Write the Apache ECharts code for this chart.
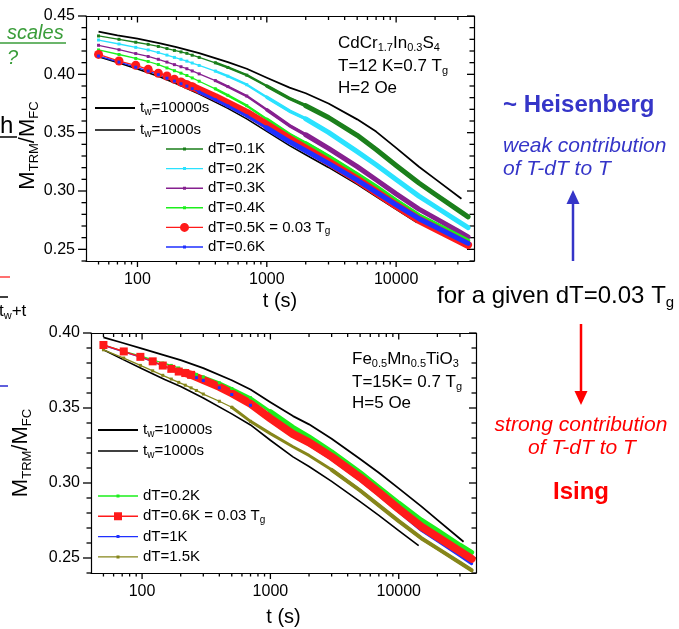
<!DOCTYPE html>
<html>
<head>
<meta charset="utf-8">
<title>TRM relaxation after temperature shift</title>
<script src="https://cdn.jsdelivr.net/npm/echarts@6.0.0/dist/echarts.min.js"></script>
<style>
html,body{margin:0;padding:0;background:#ffffff;}
#chart{width:679px;height:629px;}
</style>
</head>
<body>
<div id="chart"></div>
<script>
// ---------- tick labels / tick positions ----------
const xMajorTicks = [100, 1000, 10000];
const xMinorTicks = [50, 60, 70, 80, 90, 200, 300, 400, 500, 600, 700, 800, 900,
                     2000, 3000, 4000, 5000, 6000, 7000, 8000, 9000, 20000, 30000];
const yTopMajorTicks = [0.25, 0.30, 0.35, 0.40, 0.45];
const yTopMinorTicks = [0.24, 0.26, 0.27, 0.28, 0.29, 0.31, 0.32, 0.33, 0.34, 0.36, 0.37, 0.38, 0.39, 0.41, 0.42, 0.43, 0.44];
const yBotMajorTicks = [0.25, 0.30, 0.35, 0.40];
const yBotMinorTicks = [0.24, 0.26, 0.27, 0.28, 0.29, 0.31, 0.32, 0.33, 0.34, 0.36, 0.37, 0.38, 0.39];

// ---------- top panel: CdCr1.7In0.3S4 ----------
const tTop = [50, 72, 97, 121, 145, 169, 193, 217, 241, 265, 300, 400, 500, 700, 1000, 1500, 2000, 3000, 5000, 7000, 10000, 15000, 20000, 30000, 36000];
const top_dT01 = [.4329,.4300,.4275,.4257,.4239,.4221,.4205,.4192,.4180,.4164,.4145,.4099,.4059,.3993,.3900,.3793,.3731,.3630,.3477,.3356,.3219,.3068,.2972,.2838,.2778];
const top_dT02 = [.4294,.4260,.4231,.4209,.4187,.4165,.4145,.4129,.4113,.4097,.4076,.4028,.3984,.3911,.3804,.3685,.3619,.3503,.3338,.3225,.3098,.2956,.2867,.2742,.2686];
const top_dT03 = [.4249,.4211,.4178,.4153,.4129,.4105,.4083,.4065,.4048,.4029,.4004,.3946,.3895,.3814,.3696,.3560,.3482,.3366,.3209,.3096,.2975,.2845,.2767,.2657,.2607];
const top_dT04 = [.4209,.4170,.4136,.4110,.4084,.4055,.4031,.4010,.3990,.3969,.3941,.3876,.3820,.3731,.3615,.3485,.3408,.3295,.3142,.3037,.2918,.2790,.2719,.2619,.2574];
const top_dT05 = [.4171,.4114,.4077,.4043,.4009,.3986,.3957,.3934,.3911,.3894,.3866,.3804,.3752,.3671,.3566,.3444,.3363,.3249,.3098,.2990,.2876,.2753,.2682,.2582,.2537];
const top_dT06 = [.4157,.4105,.4061,.4028,.3997,.3967,.3942,.3919,.3899,.3877,.3848,.3782,.3728,.3643,.3540,.3422,.3345,.3237,.3093,.2990,.2881,.2763,.2693,.2595,.2551];
const tTopTw10000 = [50, 70, 100, 150, 200, 300, 500, 700, 1000, 1500, 2000, 3000, 5000, 7000, 10000, 15000, 20000, 32000];
const top_tw10000 = [.4366,.4333,.4306,.4266,.4234,.4182,.4105,.4048,.3971,.3886,.3838,.3750,.3614,.3509,.3370,.3208,.3104,.2934];
const tTopTw1000 = [50, 70, 100, 150, 200, 300, 500, 700, 1000, 1500, 2000, 3000, 5000, 7000, 10000, 14500];
const top_tw1000 = [.4151,.4102,.4046,.3978,.3920,.3832,.3708,.3618,.3511,.3389,.3311,.3202,.3057,.2953,.2843,.2729];

// ---------- bottom panel: Fe0.5Mn0.5TiO3 ----------
const tBot = [50, 72, 97, 121, 145, 169, 193, 217, 241, 265, 300, 400, 500, 700, 1000, 1500, 2000, 3000, 5000, 7000, 10000, 15000, 20000, 30000, 37000];
const bot_dT02 = [.3920,.3877,.3848,.3821,.3800,.3784,.3767,.3751,.3737,.3724,.3707,.3668,.3630,.3568,.3476,.3371,.3307,.3208,.3070,.2971,.2866,.2752,.2684,.2585,.2537];
const bot_dT06 = [.3920,.3877,.3841,.3811,.3783,.3761,.3743,.3733,.3721,.3706,.3687,.3641,.3598,.3528,.3430,.3326,.3271,.3175,.3037,.2938,.2828,.2709,.2641,.2545,.2495];
const bot_dT1  = [.3918,.3874,.3840,.3810,.3782,.3760,.3742,.3730,.3717,.3702,.3683,.3635,.3590,.3518,.3415,.3312,.3255,.3158,.3020,.2920,.2810,.2685,.2615,.2515,.2462];
const bot_dT15 = [.3888,.3833,.3784,.3748,.3718,.3693,.3671,.3652,.3634,.3617,.3593,.3545,.3505,.3411,.3329,.3242,.3184,.3088,.2950,.2851,.2746,.2632,.2564,.2468,.2418];
const tBotTw10000 = [50, 70, 100, 150, 200, 300, 500, 700, 1000, 1500, 2000, 3000, 5000, 7000, 10000, 15000, 20000, 32000];
const bot_tw10000 = [.3971,.3935,.3896,.3851,.3819,.3766,.3685,.3623,.3539,.3446,.3391,.3295,.3160,.3068,.2964,.2844,.2754,.2608];
const tBotTw1000 = [50, 70, 100, 150, 200, 300, 500, 700, 1000, 1500, 2000, 3000, 5000, 7000, 10000, 14300];
const bot_tw1000 = [.3888,.3826,.3762,.3690,.3643,.3567,.3461,.3387,.3285,.3174,.3110,.3011,.2876,.2784,.2683,.2582];

// ---------- legend texts ----------
const legendLabels = {
  T_tw10000: 't{s|w}=10000s', T_tw1000: 't{s|w}=1000s',
  T_01: 'dT=0.1K', T_02: 'dT=0.2K', T_03: 'dT=0.3K', T_04: 'dT=0.4K',
  T_05: 'dT=0.5K = 0.03 T{s|g}', T_06: 'dT=0.6K',
  B_tw10000: 't{s|w}=10000s', B_tw1000: 't{s|w}=1000s',
  B_02: 'dT=0.2K', B_06: 'dT=0.6K = 0.03 T{s|g}', B_1: 'dT=1K', B_15: 'dT=1.5K'
};

const FONT = "'Liberation Sans', Arial, Helvetica, sans-serif";
const COL = { dg: '#1b7f1b', cy: '#2ae2ff', pu: '#86208f', lg: '#1cef1c', rd: '#ff1a1a', bl: '#1f30ff', ol: '#86861a', bk: '#000000' };
const X_MIN = 40, X_MAX = 40000;

function pairs(ts, vs) { return ts.map((t, i) => [t, vs[i]]); }

function curve(name, g, ts, vs, color, o) {
  const xi = 3 * g, yi = 2 * g;
  const d = pairs(ts, vs);
  const size = o.size == null ? 3 : o.size;
  const nSym = o.n == null ? 14 : o.n;
  const out = [{
    name: name, type: 'line', xAxisIndex: xi, yAxisIndex: yi, data: d,
    smooth: false, symbol: o.symbol || 'rect',
    symbolSize: (v, p) => (p.dataIndex < nSym ? size : 0),
    showSymbol: size !== 0, showAllSymbol: true,
    itemStyle: { color: color, borderWidth: 0 }, lineStyle: { color: color, width: o.w || 1.3, join: 'round' },
    silent: true, emphasis: { disabled: true }, animation: false
  }];
  (o.bands || []).forEach((b, k) => {
    const i0 = ts.findIndex(t => t >= b.from);
    out.push({
      name: name + '_band' + k, type: 'line', xAxisIndex: xi, yAxisIndex: yi, data: d.slice(i0),
      smooth: false, showSymbol: false, itemStyle: { color: color },
      lineStyle: { color: color, width: b.w, cap: 'round', join: 'round' },
      silent: true, emphasis: { disabled: true }, animation: false
    });
  });
  return out;
}

const lx0 = Math.log10(X_MIN), lx1 = Math.log10(X_MAX);
const FRAME = { show: true, onZero: false, lineStyle: { color: '#000', width: 1.2 } };

function xAxesFor(g, nameGap) {
  return [
    { type: 'log', logBase: 10, gridIndex: g, position: 'bottom', min: X_MIN, max: X_MAX, silent: true,
      axisLine: FRAME, axisTick: { show: false }, axisLabel: { show: false }, splitLine: { show: false },
      minorTick: { show: false }, minorSplitLine: { show: false },
      name: 't (s)', nameLocation: 'middle', nameGap: nameGap,
      nameTextStyle: { fontSize: 20, fontFamily: FONT, color: '#000', lineHeight: 22 } },
    { type: 'value', gridIndex: g, position: 'bottom', min: lx0, max: lx1, silent: true,
      axisLine: { show: false }, axisTick: { show: false }, splitLine: { show: false },
      axisLabel: { show: true, customValues: xMajorTicks.map(v => Math.log10(v)), margin: 11, fontSize: 16,
        fontFamily: FONT, color: '#000', formatter: v => String(Math.round(Math.pow(10, v))) } },
    { type: 'log', logBase: 10, gridIndex: g, position: 'top', min: X_MIN, max: X_MAX, silent: true,
      axisLine: FRAME, axisTick: { show: false }, axisLabel: { show: false }, splitLine: { show: false } }
  ];
}
function yAxesFor(g, major, min, max, nameGap, namePad) {
  return [
    { type: 'value', gridIndex: g, position: 'left', min: min, max: max, silent: true,
      axisLine: FRAME, axisTick: { show: false }, splitLine: { show: false },
      axisLabel: { show: true, customValues: major, margin: 11, fontSize: 16, fontFamily: FONT, color: '#000',
        formatter: v => v.toFixed(2) },
      name: 'M{s|TRM}/M{s|FC}', nameLocation: 'middle', nameRotate: 90, nameGap: nameGap, nameMoveOverlap: false,
      nameTextStyle: { fontSize: 22, fontFamily: FONT, color: '#000', lineHeight: 26, padding: namePad,
        rich: { s: { fontSize: 13, fontFamily: FONT, color: '#000', lineHeight: 4, verticalAlign: 'bottom' } } } },
    { type: 'value', gridIndex: g, position: 'right', min: min, max: max, silent: true,
      axisLine: FRAME, axisTick: { show: false }, axisLabel: { show: false }, splitLine: { show: false } }
  ];
}

const series = [].concat(
  curve('T_tw10000', 0, tTopTw10000, top_tw10000, COL.bk, { size: 0, w: 1.8 }),
  curve('T_tw1000', 0, tTopTw1000, top_tw1000, COL.bk, { size: 0, w: 1.6 }),
  curve('T_01', 0, tTop, top_dT01, COL.dg, { bands: [{ from: 400, w: 2.5 }, { from: 1000, w: 3.5 }, { from: 2000, w: 5 }] }),
  curve('T_02', 0, tTop, top_dT02, COL.cy, { bands: [{ from: 400, w: 2.5 }, { from: 1000, w: 3.5 }, { from: 2000, w: 5 }] }),
  curve('T_03', 0, tTop, top_dT03, COL.pu, { bands: [{ from: 400, w: 2.5 }, { from: 1000, w: 3.5 }, { from: 2000, w: 5 }] }),
  curve('T_04', 0, tTop, top_dT04, COL.lg, { bands: [{ from: 400, w: 2.5 }, { from: 1000, w: 3.5 }, { from: 2000, w: 4.5 }] }),
  curve('T_05', 0, tTop, top_dT05, COL.rd, { symbol: 'circle', size: 9, n: 10, bands: [{ from: 217, w: 8 }] }),
  curve('T_06', 0, tTop, top_dT06, COL.bl, { bands: [{ from: 300, w: 3 }, { from: 1000, w: 5 }] }),
  curve('B_tw10000', 1, tBotTw10000, bot_tw10000, COL.bk, { size: 0, w: 1.8 }),
  curve('B_tw1000', 1, tBotTw1000, bot_tw1000, COL.bk, { size: 0, w: 1.6 }),
  curve('B_15', 1, tBot, bot_dT15, COL.ol, { bands: [{ from: 500, w: 3 }, { from: 3000, w: 4 }] }),
  curve('B_02', 1, tBot, bot_dT02, COL.lg, { bands: [{ from: 300, w: 3 }, { from: 1000, w: 5 }] }),
  curve('B_1', 1, tBot, bot_dT1, COL.bl, { w: 1.5, bands: [{ from: 700, w: 3 }] }),
  curve('B_06', 1, tBot, bot_dT06, COL.rd, { size: 8, n: 9, w: 1.5, bands: [{ from: 217, w: 8 }] })
);

const legendText = {
  fontSize: 15, fontFamily: FONT, color: '#000', lineHeight: 18,
  rich: { s: { fontSize: 10, fontFamily: FONT, color: '#000', lineHeight: 4, verticalAlign: 'bottom' } }
};
function legend(left, top, gap, width, items) {
  return {
    orient: 'vertical', left: left, top: top, padding: 0, itemGap: gap, itemWidth: width, itemHeight: 10,
    selectedMode: false, data: items, formatter: n => legendLabels[n], textStyle: legendText,
    itemStyle: { borderWidth: 0 }, symbolKeepAspect: true
  };
}
const IC = {
  twThick: 'path://M0,0H40V2H0Z',
  twThin: 'path://M0,0H40V1.5H0Z',
  sq37: 'path://M0,4.3H37V5.7H0ZM17,3.5H20V6.5H17Z',
  ci37: 'path://M0,4.3H37V5.7H0ZM23,5A4.5,4.5,0,1,1,14,5A4.5,4.5,0,1,1,23,5Z',
  sq40: 'path://M0,4.3H40V5.7H0ZM18.5,3.5H21.5V6.5H18.5Z',
  big40: 'path://M0,4.3H40V5.7H0ZM16,1H24V9H16Z'
};

const subRich = (fs, lh) => ({ s: { fontSize: fs, fontFamily: FONT, fill: '#000', lineHeight: lh, verticalAlign: 'bottom' } });
function label(x, y, text, o) {
  return {
    type: 'text', x: x, y: y, silent: true,
    style: Object.assign({
      text: text, fontFamily: FONT, fontSize: 17, fill: '#000', align: 'left', verticalAlign: 'middle', lineHeight: 20
    }, o || {})
  };
}
function hline(x1, y1, x2, y2, color, w) {
  return { type: 'line', silent: true, shape: { x1: x1, y1: y1, x2: x2, y2: y2 }, style: { stroke: color, lineWidth: w } };
}
const BLUE = '#3535c8', RED = '#ff0000', GREEN = '#3a9d3a';

const graphics = [
  label(7, 33, 'scales', { fontSize: 20, fontStyle: 'italic', fill: GREEN }),
  hline(0, 43, 66, 43, GREEN, 1.5),
  label(7, 58, '?', { fontSize: 20, fontStyle: 'italic', fill: GREEN }),
  label(0, 126, 'h', { fontSize: 24 }),
  hline(0, 137, 17, 137, '#000', 1.5),
  hline(0, 277, 10, 277, '#ff7070', 2),
  hline(0, 297, 8, 297, '#000', 1.5),
  label(-1, 311, 't{s|w}+t', { fontSize: 17, lineHeight: 20, rich: subRich(11, 4) }),
  hline(0, 386, 8, 386, '#2a2ad0', 1.5),
  label(338, 43, 'CdCr{s|1.7}In{s|0.3}S{s|4}', { rich: subRich(11, 5) }),
  label(338, 66, 'T=12 K=0.7 T{s|g}', { rich: subRich(11, 5) }),
  label(338, 88, 'H=2 Oe'),
  label(352, 359, 'Fe{s|0.5}Mn{s|0.5}TiO{s|3}', { rich: subRich(11, 5) }),
  label(352, 382, 'T=15K= 0.7 T{s|g}', { rich: subRich(11, 5) }),
  label(352, 403, 'H=5 Oe'),
  label(503, 105, '~ Heisenberg', { fontSize: 24, fontWeight: 'bold', fill: BLUE, lineHeight: 28 }),
  label(503, 146, 'weak contribution', { fontSize: 21, fontStyle: 'italic', fill: BLUE, lineHeight: 24 }),
  label(503, 169, 'of T-dT to T', { fontSize: 21, fontStyle: 'italic', fill: BLUE, lineHeight: 24 }),
  hline(573, 261, 573, 202, BLUE, 2.5),
  { type: 'polygon', silent: true, shape: { points: [[566.5, 204], [579.5, 204], [573, 190]] }, style: { fill: BLUE } },
  label(437, 296, 'for a given dT=0.03 T{s|g}', { fontSize: 24, lineHeight: 28, rich: subRich(15, 2) }),
  hline(581, 324, 581, 393, RED, 2.5),
  { type: 'polygon', silent: true, shape: { points: [[574.5, 391], [587.5, 391], [581, 405]] }, style: { fill: RED } },
  label(581, 425, 'strong contribution', { fontSize: 21, fontStyle: 'italic', fill: RED, align: 'center', lineHeight: 24 }),
  label(582, 448, 'of T-dT to T', { fontSize: 21, fontStyle: 'italic', fill: RED, align: 'center', lineHeight: 24 }),
  label(581, 492, 'Ising', { fontSize: 24, fontWeight: 'bold', fill: RED, align: 'center', lineHeight: 28 })
];

const option = {
  animation: false,
  backgroundColor: '#ffffff',
  textStyle: { fontFamily: FONT },
  grid: [
    { left: 86, top: 16, width: 388, height: 245, containLabel: false },
    { left: 88, top: 333, width: 388, height: 244, containLabel: false }
  ],
  xAxis: [].concat(xAxesFor(0, 29), xAxesFor(1, 33)),
  yAxis: [].concat(
    yAxesFor(0, yTopMajorTicks, 0.24, 0.45, 45, [0, 14, 0, 0]),
    yAxesFor(1, yBotMajorTicks, 0.24, 0.40, 57, [0, 0, 0, 0])
  ),
  legend: [
    legend(95, 99, 4, 40, [{ name: 'T_tw10000', icon: IC.twThick }, { name: 'T_tw1000', icon: IC.twThin }]),
    legend(166, 140, 1.6, 37, [
      { name: 'T_01', icon: IC.sq37 }, { name: 'T_02', icon: IC.sq37 }, { name: 'T_03', icon: IC.sq37 },
      { name: 'T_04', icon: IC.sq37 }, { name: 'T_05', icon: IC.ci37 }, { name: 'T_06', icon: IC.sq37 }
    ]),
    legend(98, 421, 3, 40, [{ name: 'B_tw10000', icon: IC.twThick }, { name: 'B_tw1000', icon: IC.twThin }]),
    legend(98, 487, 2.3, 40, [
      { name: 'B_02', icon: IC.sq40 }, { name: 'B_06', icon: IC.big40 },
      { name: 'B_1', icon: IC.sq40 }, { name: 'B_15', icon: IC.sq40 }
    ])
  ],
  series: series
};

const chart = echarts.init(document.getElementById('chart'), null, { renderer: 'canvas' });
chart.setOption(option);

// tick marks on all four sides, positioned through the axes' own scales
const tickEls = [];
const panels = [
  { g: 0, yMin: 0.24, yMax: 0.45, yMajor: yTopMajorTicks, yMinor: yTopMinorTicks },
  { g: 1, yMin: 0.24, yMax: 0.40, yMajor: yBotMajorTicks, yMinor: yBotMinorTicks }
];
const TW = 1.3;
panels.forEach(p => {
  const finder = { gridIndex: p.g };
  const px = (x, y) => chart.convertToPixel(finder, [x, y]);
  const addX = (t, major) => {
    const b = px(t, p.yMin), tp = px(t, p.yMax);
    if (!b || !tp) return;
    const x = b[0] - TW / 2;
    tickEls.push({ type: 'rect', silent: true, shape: { x: x, y: b[1], width: TW, height: major ? 6 : 3.5 }, style: { fill: '#000' } });
    tickEls.push({ type: 'rect', silent: true, shape: { x: x, y: tp[1], width: TW, height: major ? 6.5 : 4 }, style: { fill: '#000' } });
  };
  const addY = (v, major) => {
    const l = px(X_MIN, v), r = px(X_MAX, v);
    if (!l || !r) return;
    const y = l[1] - TW / 2;
    const ll = major ? 8 : 4.5, lr = major ? 7 : 4.5;
    tickEls.push({ type: 'rect', silent: true, shape: { x: l[0] - ll, y: y, width: ll, height: TW }, style: { fill: '#000' } });
    tickEls.push({ type: 'rect', silent: true, shape: { x: r[0] - lr, y: y, width: lr, height: TW }, style: { fill: '#000' } });
  };
  xMinorTicks.forEach(t => addX(t, false));
  xMajorTicks.forEach(t => addX(t, true));
  p.yMinor.forEach(v => addY(v, false));
  p.yMajor.forEach(v => addY(v, true));
});
chart.setOption({ graphic: { elements: graphics.concat(tickEls) } });
</script>
</body>
</html>
